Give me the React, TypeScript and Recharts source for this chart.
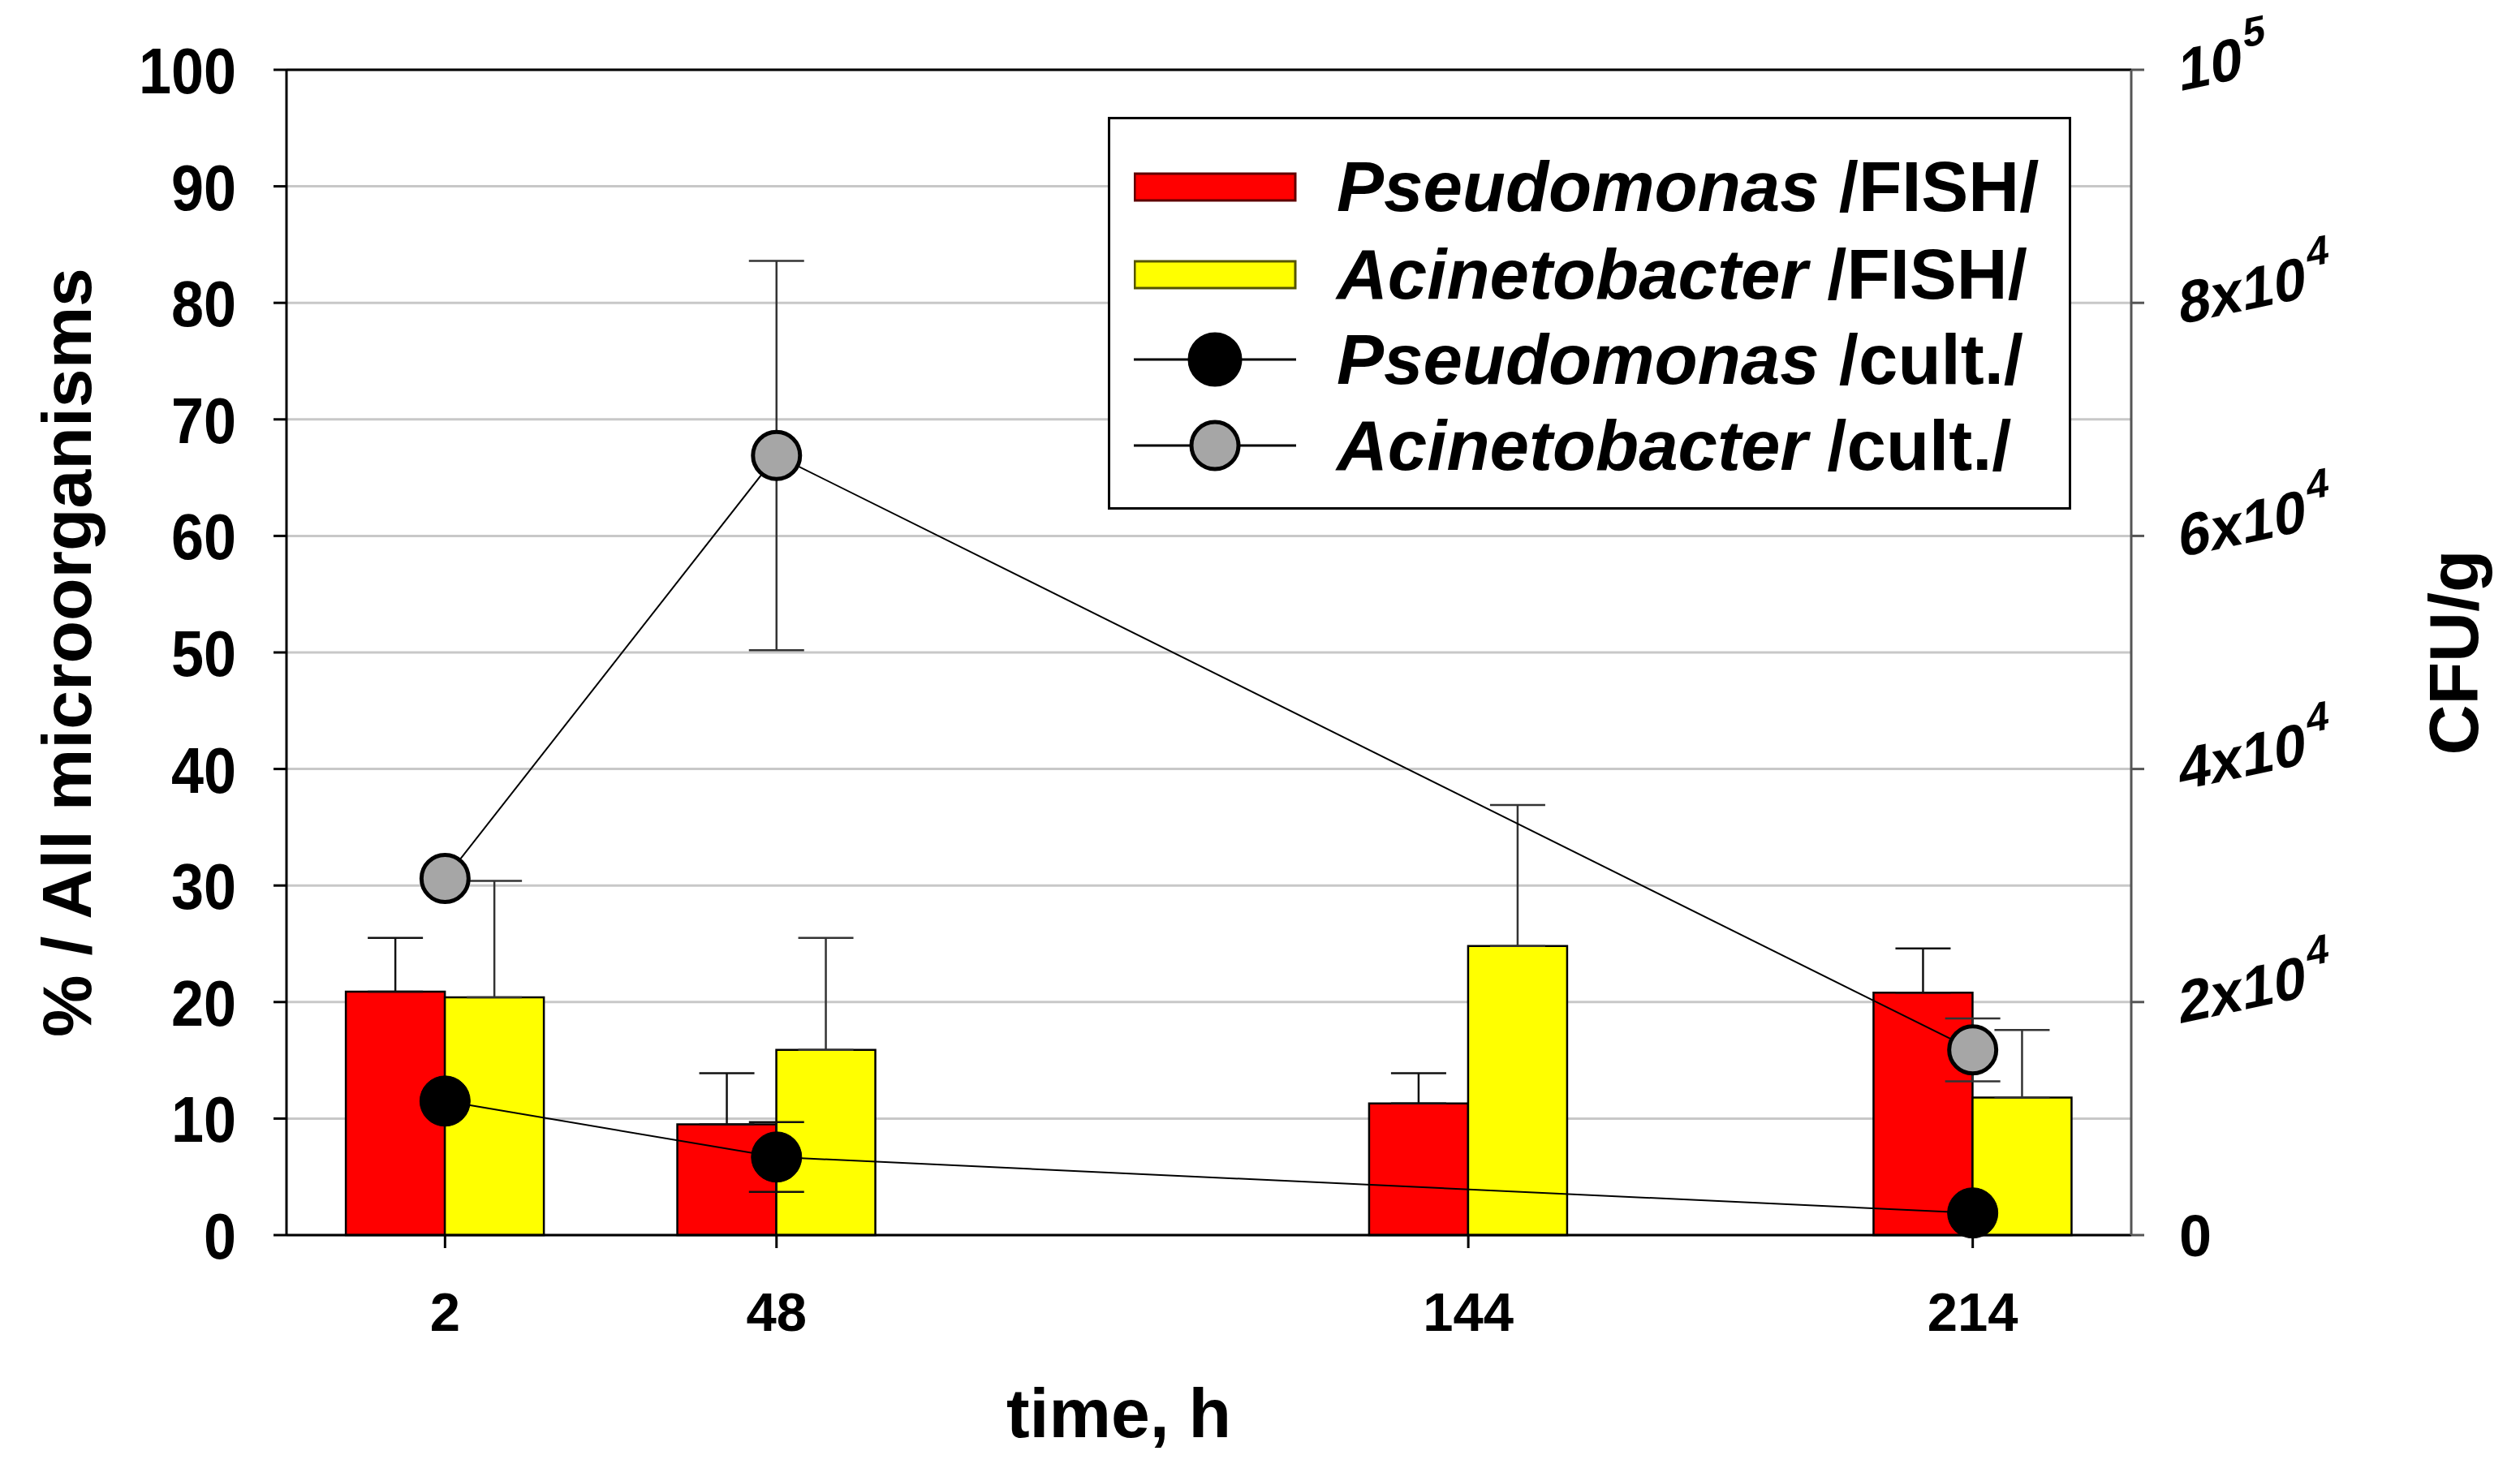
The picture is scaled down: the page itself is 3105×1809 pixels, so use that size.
import React from 'react';
import {
  ComposedChart,
  Bar,
  Line,
  XAxis,
  YAxis,
  CartesianGrid,
  ErrorBar,
  Legend,
  ReferenceLine,
} from 'recharts';

const FONT = '"Liberation Sans", Arial, sans-serif';

// time points (h)
const hours = [2, 48, 144, 214];
// FISH, % of all microorganisms
const pseudomonasFish = [20.9, 9.5, 11.3, 20.8];
const pseudomonasFishErr = [4.6, 4.4, 2.6, 3.8];
const acinetobacterFish = [20.4, 15.9, 24.8, 11.8];
const acinetobacterFishErr = [10.0, 9.6, 12.1, 5.8];

// cultivation, CFU/g (no count at 144 h)
const cultHours = [2, 48, 214];
const pseudomonasCult = [11500, 6700, 1900];
const pseudomonasCultErr = [0, 3000, 0];
const acinetobacterCult = [30600, 66900, 15900];
const acinetobacterCultErr = [0, 16700, 2700];

const leftTicks = [0, 10, 20, 30, 40, 50, 60, 70, 80, 90, 100];
const rightTicks = [0, 20000, 40000, 60000, 80000, 100000];
const xTicks = [2, 48, 144, 214];

const barData = hours.map((t, i) => ({
  t,
  pf: pseudomonasFish[i],
  pfErr: [0, pseudomonasFishErr[i]],
  af: acinetobacterFish[i],
  afErr: [0, acinetobacterFishErr[i]],
}));

const pseudoCultData = cultHours.map((t, i) => ({ t, v: pseudomonasCult[i], e: pseudomonasCultErr[i] }));
const acinetoCultData = cultHours.map((t, i) => ({ t, v: acinetobacterCult[i], e: acinetobacterCultErr[i] }));

const legendRows = [
  { genus: 'Pseudomonas', method: ' /FISH/', kind: 'bar', fill: '#ff0000', edge: '#600000' },
  { genus: 'Acinetobacter', method: ' /FISH/', kind: 'bar', fill: '#ffff00', edge: '#555500' },
  { genus: 'Pseudomonas', method: ' /cult./', kind: 'dot', fill: '#000000', edge: '#000000' },
  { genus: 'Acinetobacter', method: ' /cult./', kind: 'dot', fill: '#a6a6a6', edge: '#000000' },
];
const legendCenters = [83, 191, 296, 402];

const LegendBox = () => (
  <div
    style={{
      position: 'relative',
      width: 1187,
      height: 484,
      border: '3px solid #000',
      boxSizing: 'border-box',
      background: '#fff',
      fontFamily: FONT,
      fontWeight: 'bold',
      fontSize: 87,
      color: '#000',
    }}
  >
    {legendRows.map((r, i) => (
      <div
        key={i}
        style={{ position: 'absolute', left: 0, top: legendCenters[i] - 50, height: 100, width: '100%' }}
      >
        <svg width={240} height={100} style={{ position: 'absolute', left: 29, top: 0 }}>
          {r.kind === 'bar' ? (
            <rect x={1} y={34} width={198} height={33} fill={r.fill} stroke={r.edge} strokeWidth={3} />
          ) : (
            <g>
              <line x1={0} y1={50} x2={200} y2={50} stroke="#000" strokeWidth={3} />
              <circle cx={100} cy={50} r={r.fill === '#000000' ? 31 : 29} fill={r.fill} stroke={r.edge} strokeWidth={5} />
            </g>
          )}
        </svg>
        <div
          style={{
            position: 'absolute',
            left: 279,
            top: 0,
            height: 100,
            lineHeight: '100px',
            whiteSpace: 'nowrap',
          }}
        >
          <span style={{ fontStyle: 'italic' }}>{r.genus}</span>
          {r.method}
        </div>
      </div>
    ))}
  </div>
);

const LeftTick = (props: any) => {
  const { x, y, payload } = props;
  return (
    <text
      transform={`translate(${x} ${y}) scale(0.9 1)`}
      x={0}
      y={29}
      textAnchor="end"
      fontSize={80}
      fontWeight="bold"
      fontFamily={FONT}
      fill="#000"
    >
      {payload.value}
    </text>
  );
};

const RightTick = (props: any) => {
  const { x, y, payload } = props;
  const v = payload.value;
  if (v === 0) {
    return (
      <text x={x} y={y + 26} fontSize={72} fontWeight="bold" fontFamily={FONT} fill="#000">
        0
      </text>
    );
  }
  const main = v === 100000 ? '10' : `${v / 10000}x10`;
  const sup = v === 100000 ? '5' : '4';
  return (
    <text
      transform={`translate(${x} ${y}) rotate(-12) skewX(-13)`}
      x={0}
      y={26}
      fontSize={72}
      fontWeight="bold"
      fontFamily={FONT}
      fill="#000"
    >
      <tspan>{main}</tspan>
      <tspan dy={-36} fontSize={50}>
        {sup}
      </tspan>
    </text>
  );
};

const XTitle = (props: any) => {
  const vb = props.viewBox;
  return (
    <text
      x={vb.x + vb.width / 2 - 111}
      y={vb.y + 249}
      textAnchor="middle"
      fontSize={86}
      fontWeight="bold"
      fontFamily={FONT}
      fill="#000"
    >
      time, h
    </text>
  );
};

const LeftTitle = (props: any) => {
  const vb = props.viewBox;
  const cx = 112;
  const cy = vb.y + vb.height / 2;
  return (
    <text
      x={cx}
      y={cy}
      transform={`rotate(-90 ${cx} ${cy})`}
      textAnchor="middle"
      fontSize={86}
      fontWeight="bold"
      fontFamily={FONT}
      fill="#000"
    >
      % / All microorganisms
    </text>
  );
};

const RightTitle = (props: any) => {
  const vb = props.viewBox;
  const cx = 3053;
  const cy = vb.y + vb.height / 2;
  return (
    <text
      x={cx}
      y={cy}
      transform={`rotate(-90 ${cx} ${cy})`}
      textAnchor="middle"
      fontSize={86}
      fontWeight="bold"
      fontFamily={FONT}
      fill="#000"
    >
      CFU/g
    </text>
  );
};

export default function App() {
  return (
    <div style={{ position: 'absolute', left: 0, top: 0, width: 3105, height: 1809, background: '#fff' }}>
      <ComposedChart
        width={3105}
        height={1809}
        data={barData}
        margin={{ top: 86, right: 0, bottom: 0, left: 0 }}
        barGap={0}
      >
        <CartesianGrid yAxisId="left" horizontal vertical={false} stroke="#c8c8c8" strokeWidth={3} />
        <XAxis
          dataKey="t"
          type="number"
          domain={[-20, 236]}
          ticks={xTicks}
          height={287}
          axisLine={{ stroke: '#000', strokeWidth: 3 }}
          tickLine={{ stroke: '#000', strokeWidth: 3 }}
          tickSize={16}
          tickMargin={54}
          tick={{ fontSize: 67, fontWeight: 'bold', fill: '#000', fontFamily: FONT }}
          label={{ content: <XTitle /> }}
        />
        <YAxis
          yAxisId="left"
          domain={[0, 100]}
          ticks={leftTicks}
          width={353}
          axisLine={{ stroke: '#000', strokeWidth: 3 }}
          tickLine={{ stroke: '#000', strokeWidth: 3 }}
          tickSize={16}
          tickMargin={46}
          tick={<LeftTick />}
          label={{ content: <LeftTitle /> }}
        />
        <YAxis
          yAxisId="right"
          orientation="right"
          domain={[0, 100000]}
          ticks={rightTicks}
          width={479}
          axisLine={{ stroke: '#555', strokeWidth: 3 }}
          tickLine={{ stroke: '#555', strokeWidth: 3 }}
          tickSize={16}
          tickMargin={43}
          tick={<RightTick />}
          label={{ content: <RightTitle /> }}
        />
        <ReferenceLine yAxisId="left" y={100} stroke="#000" strokeWidth={3} />
        <Legend
          layout="vertical"
          align="center"
          verticalAlign="middle"
          content={<LegendBox />}
          wrapperStyle={{ left: 1365, top: 144, width: 1187, height: 484 }}
        />
        <Bar
          yAxisId="left"
          dataKey="pf"
          fill="#ff0000"
          stroke="#000"
          strokeWidth={2.5}
          barSize={122}
          isAnimationActive={false}
        >
          <ErrorBar dataKey="pfErr" direction="y" width={34} stroke="#111" strokeWidth={2.5} />
        </Bar>
        <Bar
          yAxisId="left"
          dataKey="af"
          fill="#ffff00"
          stroke="#000"
          strokeWidth={2.5}
          barSize={122}
          isAnimationActive={false}
        >
          <ErrorBar dataKey="afErr" direction="y" width={34} stroke="#333" strokeWidth={2.5} />
        </Bar>
        <Line
          yAxisId="right"
          data={acinetoCultData}
          dataKey="v"
          stroke="#000"
          strokeWidth={2}
          dot={{ r: 29, fill: '#a6a6a6', stroke: '#000', strokeWidth: 5 }}
          activeDot={false}
          isAnimationActive={false}
        >
          <ErrorBar dataKey="e" direction="y" width={34} stroke="#333" strokeWidth={2.5} />
        </Line>
        <Line
          yAxisId="right"
          data={pseudoCultData}
          dataKey="v"
          stroke="#000"
          strokeWidth={2}
          dot={{ r: 31, fill: '#000', stroke: '#000', strokeWidth: 1 }}
          activeDot={false}
          isAnimationActive={false}
        >
          <ErrorBar dataKey="e" direction="y" width={34} stroke="#111" strokeWidth={2.5} />
        </Line>
      </ComposedChart>
    </div>
  );
}
